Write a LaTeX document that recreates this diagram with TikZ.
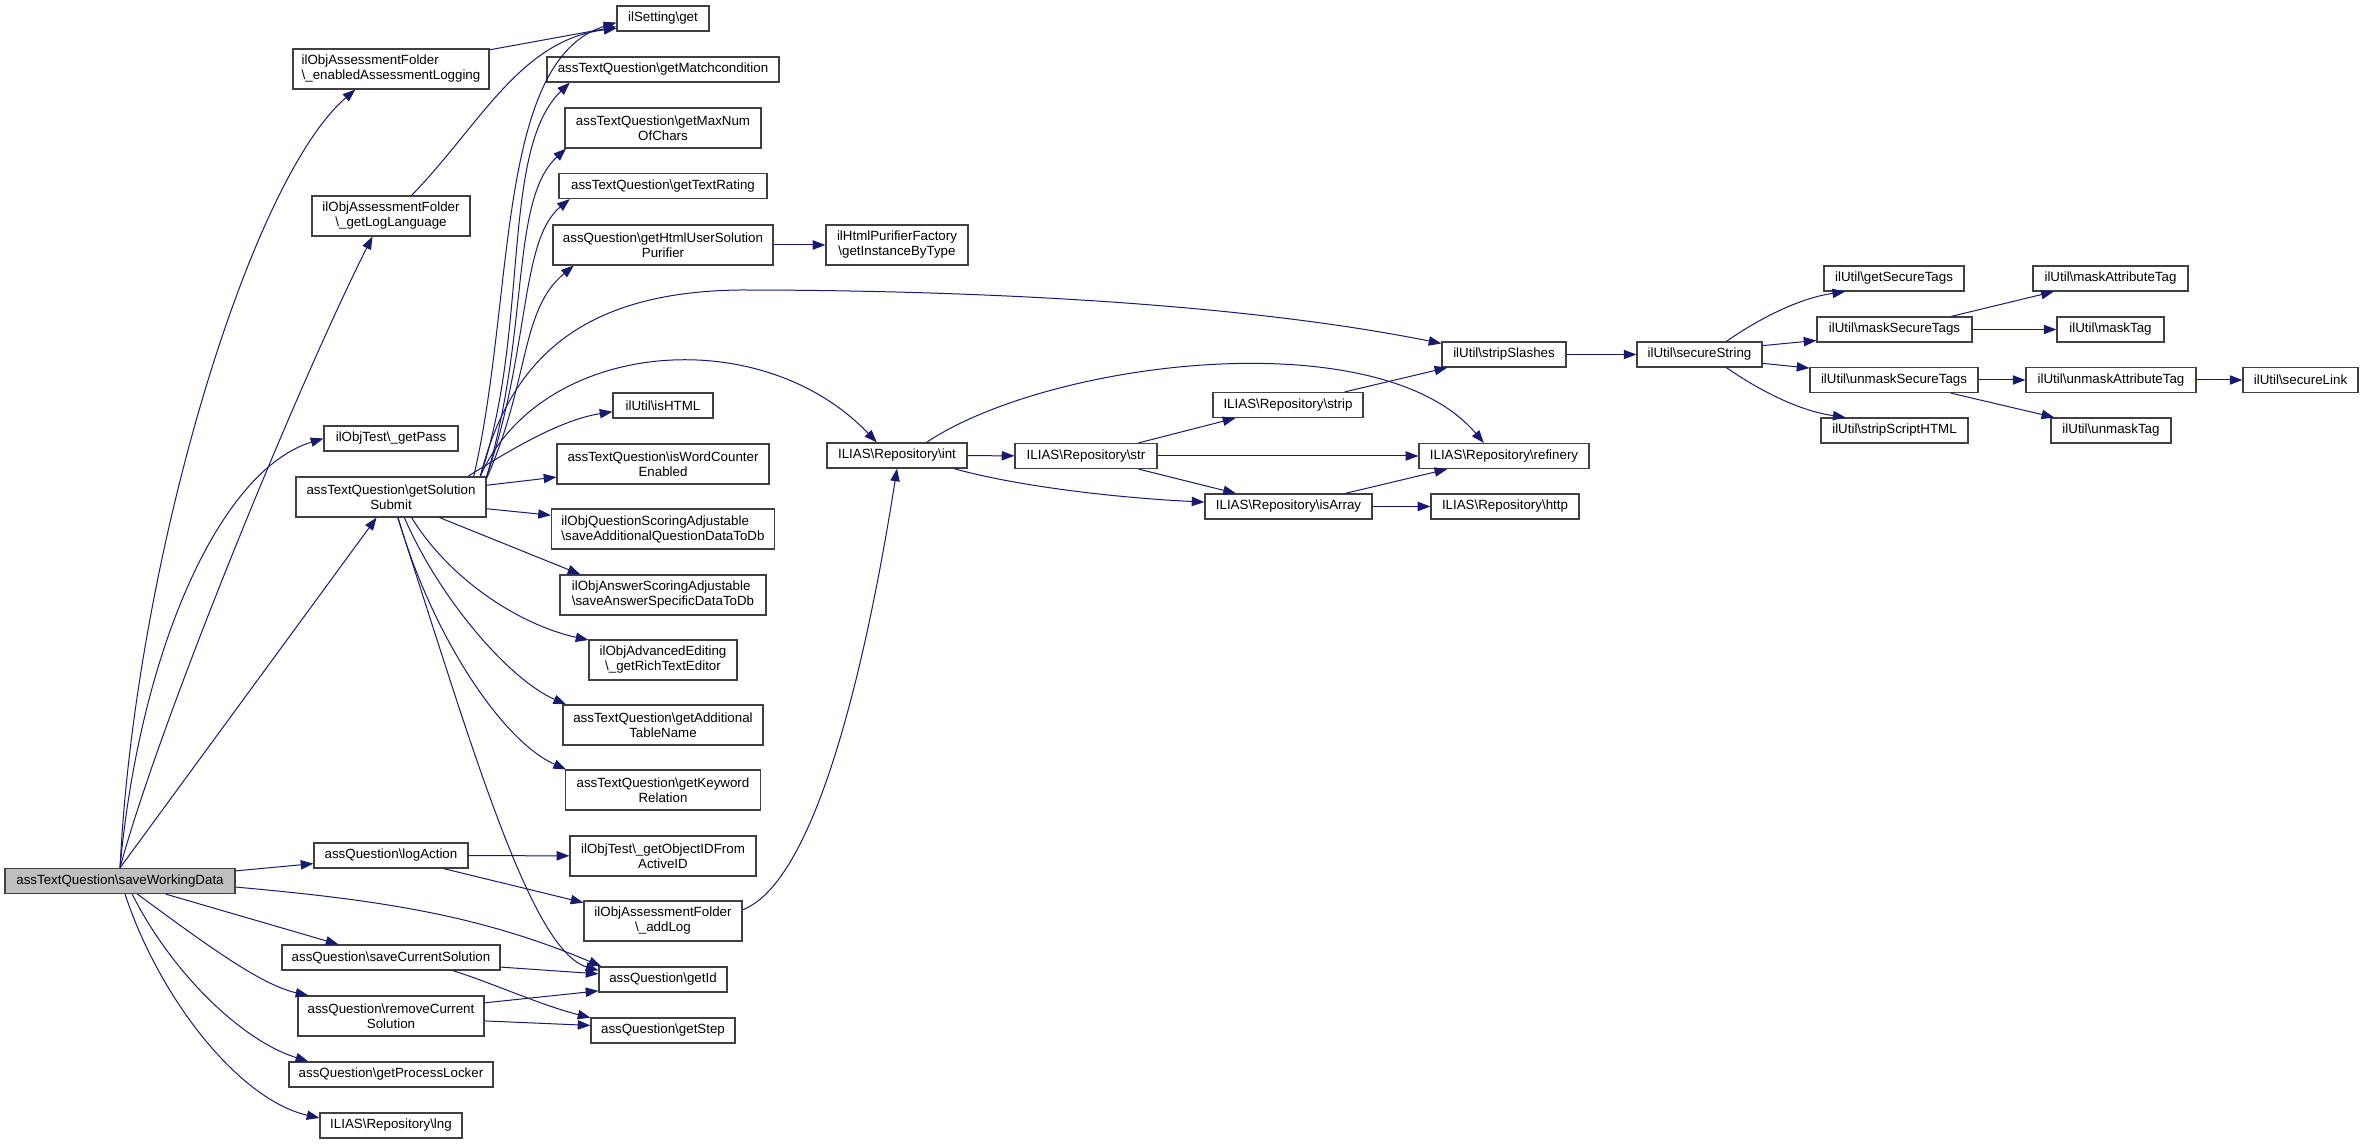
\documentclass[tikz,border=0pt]{standalone}
\usepackage{fontspec}
\setmainfont{Liberation Sans}
\usetikzlibrary{arrows.meta}
\definecolor{edgeblue}{HTML}{191970}
\newcommand{\bsl}{\textbackslash}
\tikzset{
  fn/.style={draw=black!75, line width=0.9pt, fill=white, inner sep=1pt, minimum height=18.75pt, font=\fontsize{10}{11.25}\selectfont, align=center},
  fn2/.style={fn, minimum height=30pt},
  call/.style={draw=edgeblue, line width=0.75pt, -{Triangle[length=9.5pt,width=7pt]}},
}
\begin{document}
\begin{tikzpicture}[x=0.75pt,y=-0.75pt]
\path[use as bounding box, fill=white] (0,0) rectangle (2364,1144);
%appelant
\node[fn, fill=black!25, minimum width=172.5pt] (swd) at (120,881) {assTextQuestion\bsl saveWorkingData};
%colonne 1
\node[fn2, align=left, minimum width=147pt] (ealog) at (391,69) {ilObjAssessmentFolder\\\bsl\_enabledAssessmentLogging};
\node[fn2, minimum width=118.5pt] (gll) at (391,216) {ilObjAssessmentFolder\\\bsl\_getLogLanguage};
\node[fn, minimum width=100.5pt] (gpass) at (391,438.5) {ilObjTest\bsl\_getPass};
\node[fn2, minimum width=142.5pt] (gss) at (391,497) {assTextQuestion\bsl getSolution\\Submit};
\node[fn, minimum width=115.5pt] (lact) at (391,855.5) {assQuestion\bsl logAction};
\node[fn, minimum width=163.5pt] (scs) at (391,957.5) {assQuestion\bsl saveCurrentSolution};
\node[fn2, minimum width=139.5pt] (rcs) at (391,1016) {assQuestion\bsl removeCurrent\\Solution};
\node[fn, minimum width=153pt] (gpl) at (391,1074.5) {assQuestion\bsl getProcessLocker};
\node[fn, minimum width=106.5pt] (lng) at (391,1125.5) {ILIAS\bsl Repository\bsl lng};
%colonne 2
\node[fn, minimum width=69pt] (sget) at (663,18.5) {ilSetting\bsl get};
\node[fn, minimum width=174pt] (gmc) at (663,69.5) {assTextQuestion\bsl getMatchcondition};
\node[fn2, minimum width=147pt] (gmnc) at (663,128) {assTextQuestion\bsl getMaxNum\\OfChars};
\node[fn, minimum width=156pt] (gtr) at (663,186) {assTextQuestion\bsl getTextRating};
\node[fn2, minimum width=165pt] (ghusp) at (663,245) {assQuestion\bsl getHtmlUserSolution\\Purifier};
\node[fn, minimum width=75pt] (ishtml) at (663,405.5) {ilUtil\bsl isHTML};
\node[fn2, minimum width=159pt] (iwce) at (663,464) {assTextQuestion\bsl isWordCounter\\Enabled};
\node[fn2, align=left, minimum width=167.25pt] (saqd) at (663,529) {ilObjQuestionScoringAdjustable\\\bsl saveAdditionalQuestionDataToDb};
\node[fn2, align=left, minimum width=154.5pt] (sasd) at (663,595) {ilObjAnswerScoringAdjustable\\\bsl saveAnswerSpecificDataToDb};
\node[fn2, minimum width=111pt] (grte) at (663,660) {ilObjAdvancedEditing\\\bsl\_getRichTextEditor};
\node[fn2, minimum width=150pt] (gatn) at (663,725) {assTextQuestion\bsl getAdditional\\TableName};
\node[fn2, minimum width=146.25pt] (gkr) at (663,790) {assTextQuestion\bsl getKeyword\\Relation};
\node[fn2, minimum width=139.5pt] (goid) at (663,856) {ilObjTest\bsl\_getObjectIDFrom\\ActiveID};
\node[fn2, minimum width=118.5pt] (alog) at (663,921) {ilObjAssessmentFolder\\\bsl\_addLog};
\node[fn, minimum width=96pt] (gid) at (663,979.5) {assQuestion\bsl getId};
\node[fn, minimum width=108pt] (gstep) at (663,1030.5) {assQuestion\bsl getStep};
%colonne 3 et suivantes
\node[fn2, minimum width=106.5pt] (hpf) at (897,245) {ilHtmlPurifierFactory\\\bsl getInstanceByType};
\node[fn, minimum width=105pt] (rint) at (897,455.5) {ILIAS\bsl Repository\bsl int};
\node[fn, minimum width=106.5pt] (rstr) at (1086,456) {ILIAS\bsl Repository\bsl str};
\node[fn, minimum width=112.5pt] (rstrip) at (1288,405) {ILIAS\bsl Repository\bsl strip};
\node[fn, minimum width=125.25pt] (risarr) at (1288.5,506.5) {ILIAS\bsl Repository\bsl isArray};
\node[fn, minimum width=93pt] (strsl) at (1504,354.5) {ilUtil\bsl stripSlashes};
\node[fn, minimum width=127.5pt] (rref) at (1504,456) {ILIAS\bsl Repository\bsl refinery};
\node[fn, minimum width=111pt] (rhttp) at (1505,506.5) {ILIAS\bsl Repository\bsl http};
\node[fn, minimum width=93.75pt] (sstr) at (1699.5,354.5) {ilUtil\bsl secureString};
\node[fn, minimum width=105pt] (gst) at (1894,278.5) {ilUtil\bsl getSecureTags};
\node[fn, minimum width=116.25pt] (mst) at (1894.5,329.5) {ilUtil\bsl maskSecureTags};
\node[fn, minimum width=126pt] (ust) at (1894,380) {ilUtil\bsl unmaskSecureTags};
\node[fn, minimum width=110.25pt] (sshtml) at (1894.5,430.5) {ilUtil\bsl stripScriptHTML};
\node[fn, minimum width=116.25pt] (mat) at (2110.5,278.5) {ilUtil\bsl maskAttributeTag};
\node[fn, minimum width=80.25pt] (mtag) at (2110.5,329.5) {ilUtil\bsl maskTag};
\node[fn, minimum width=127.5pt] (uat) at (2111,380) {ilUtil\bsl unmaskAttributeTag};
\node[fn, minimum width=90pt] (utag) at (2111,430.5) {ilUtil\bsl unmaskTag};
\node[fn, minimum width=86.25pt] (slink) at (2300.5,380) {ilUtil\bsl secureLink};
%appels de saveWorkingData
\draw[call] (swd.north) .. controls (135,560) and (250,180) .. (ealog.210);
\draw[call] (swd.north) .. controls (160,720) and (300,380) .. (gll.228);
\draw[call] (swd.north) .. controls (140,650) and (220,470) .. (gpass.west);
\draw[call] (swd.north) -- (gss.235);
\draw[call] (swd.5) -- (lact.186);
\draw[call] (swd.-3) .. controls (380,900) and (480,915) .. (gid.168);
\draw[call] (swd.-16) -- (scs.166);
\draw[call] (swd.-37) .. controls (200,940) and (260,985) .. (rcs.166);
\draw[call] (swd.-47) .. controls (170,970) and (240,1040) .. (gpl.171);
\draw[call] (swd.-69) .. controls (160,1000) and (240,1100) .. (lng.174);
%appels de la colonne 1
\draw[call] (ealog.11) -- (sget.190);
\draw[call] (gll.45) .. controls (480,125) and (520,40) .. (sget.192);
\draw[call] (gss.14) .. controls (515,300) and (495,60) .. (sget.185);
\draw[call] (gss.13) .. controls (530,330) and (500,150) .. (gmc.188);
\draw[call] (gss.12.5) .. controls (530,330) and (510,200) .. (gmnc.192);
\draw[call] (gss.12) .. controls (530,350) and (520,240) .. (gtr.188);
\draw[call] (gss.11) .. controls (530,380) and (520,310) .. (ghusp.193);
\draw[call] (gss.15) .. controls (510,450) and (560,420) .. (ishtml.187);
\draw[call] (gss.13) .. controls (540,340) and (760,320) .. (rint.147);
\draw[call] (gss.13) .. controls (510,360) and (580,292) .. (740,290) .. controls (880,290) and (1200,295) .. (strsl.170);
\draw[call] (gss.7) -- (iwce.187);
\draw[call] (gss.-7) -- (saqd.173);
\draw[call] (gss.-23) -- (sasd.166);
\draw[call] (gss.-45) .. controls (450,580) and (520,625) .. (grte.165);
\draw[call] (gss.-57) .. controls (440,600) and (510,680) .. (gatn.168);
\draw[call] (gss.-71) .. controls (430,630) and (500,740) .. (gkr.168);
\draw[call] (gss.-72) .. controls (470,740) and (530,950) .. (gid.172);
\draw[call] (lact.-14) -- (alog.167);
\draw[call] (scs.-5) -- (gid.175);
\draw[call] (scs.-12) .. controls (490,982) and (540,1005) .. (gstep.170);
\draw[call] (rcs.8) -- (gid.190);
\draw[call] (rcs.-3) -- (gstep.176);
%vers ILIAS\Repository
\draw[call] (alog.8) .. controls (820,880) and (870,640) .. (rint.south);
\draw[call] (rint.-13) .. controls (1020,487) and (1120,498) .. (risarr.177);
\draw[call] (rint.24) .. controls (1050,360) and (1380,320) .. (rref.147);
\draw[call] (rstr.14) -- (rstrip.194);
\draw[call] (rstr.-14) -- (risarr.166);
\draw[call] (rstrip.13) -- (strsl.193);
\draw[call] (risarr.13) -- (rref.193);
%ilUtil
\draw[call] (sstr.26) .. controls (1760,318) and (1800,298) .. (gst.195);
\draw[call] (sstr.8) -- (mst.188);
\draw[call] (sstr.-8) -- (ust.172);
\draw[call] (sstr.-26) .. controls (1760,391) and (1800,411) .. (sshtml.165);
\draw[call] (mst.13) -- (mat.193);
\draw[call] (ust.-13) -- (utag.167);
%appels directs
\foreach \a/\b in {ghusp/hpf, lact/goid, rint/rstr, rstr/rref, risarr/rhttp, strsl/sstr, mst/mtag, ust/uat, uat/slink}
{\draw[call] (\a) -- (\b);}
\end{tikzpicture}
\end{document}
